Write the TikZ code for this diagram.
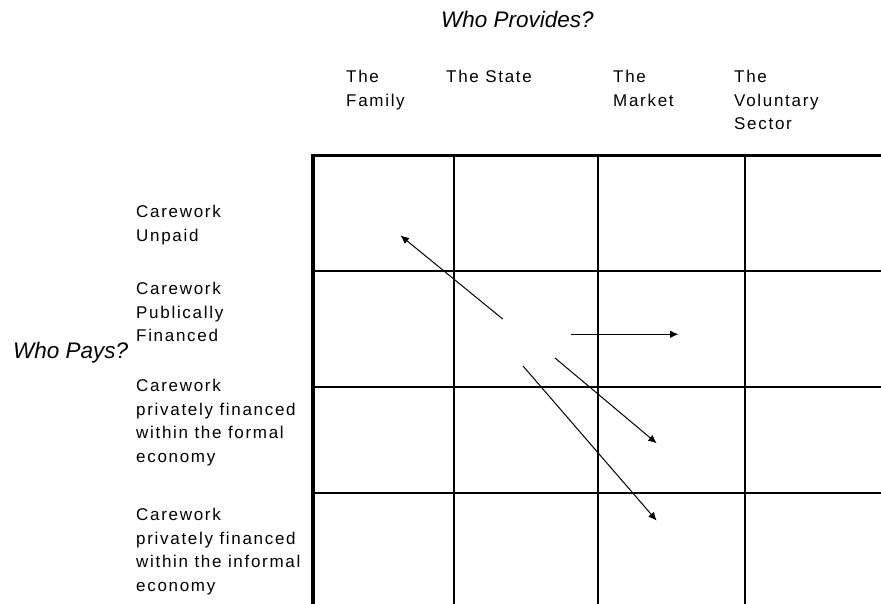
\documentclass[tikz,border=0pt]{standalone}
\usepackage{fontspec}
\setmainfont{Liberation Sans}
\newfontfamily\lblfont[LetterSpace=10]{Liberation Sans}
\usetikzlibrary{arrows.meta}
\begin{document}
\begin{tikzpicture}[x=1pt,y=-1pt,
  lab/.style={anchor=north west, inner sep=0pt, align=left,
    font=\fontsize{17}{23.5}\selectfont\lblfont},
  axlab/.style={anchor=base west, inner sep=0pt,
    font=\fontsize{22.5}{27}\selectfont\itshape},
  gridline/.style={line width=1.8pt},
  outerline/.style={line width=3.4pt, line join=miter},
  arr/.style={line width=1pt, -{Latex[length=8.5pt,width=7.5pt]}}]
\useasboundingbox (0,0) rectangle (881,604);

% grid
\draw[gridline] (454,155) -- (454,604);
\draw[gridline] (598,155) -- (598,604);
\draw[gridline] (745,155) -- (745,604);
\draw[gridline] (313,271) -- (881,271);
\draw[gridline] (313,387) -- (881,387);
\draw[gridline] (313,493) -- (881,493);
\draw[outerline] (313,604) -- (313,155.5) -- (881,155.5);

% axis titles
\node[axlab] (prov) at (441,27.3) {Who Provides?};
\node[axlab] (pays) at (13,358) {Who Pays?};

% column headers
\node[lab] (fam) at (346,70) {The\\Family};
\node[lab] (sta) at (446,70) {The State};
\node[lab] (mkt) at (613,70) {The\\Market};
\node[lab] (vol) at (734,70) {The\\Voluntary\\Sector};

% row headers
\node[lab] (r1) at (136,205) {Carework\\Unpaid};
\node[lab] (r2) at (136,282) {Carework\\Publically\\Financed};
\node[lab] (r3) at (136,379) {Carework\\privately financed\\within the formal\\economy};
\node[lab] (r4) at (136,508) {Carework\\privately financed\\within the informal\\economy};

% arrows
\coordinate (a1s) at (502.7,319);
\coordinate (a1e) at (400.5,235.5);
\coordinate (a2s) at (570.7,334.3);
\coordinate (a2e) at (678.5,334.3);
\coordinate (a3s) at (555,358);
\coordinate (a3e) at (656.7,443.3);
\coordinate (a4s) at (523,366);
\coordinate (a4e) at (656.7,520.7);
\draw[arr] (a1s) -- (a1e);
\draw[arr] (a2s) -- (a2e);
\draw[arr] (a3s) -- (a3e);
\draw[arr] (a4s) -- (a4e);
\end{tikzpicture}
\end{document}
